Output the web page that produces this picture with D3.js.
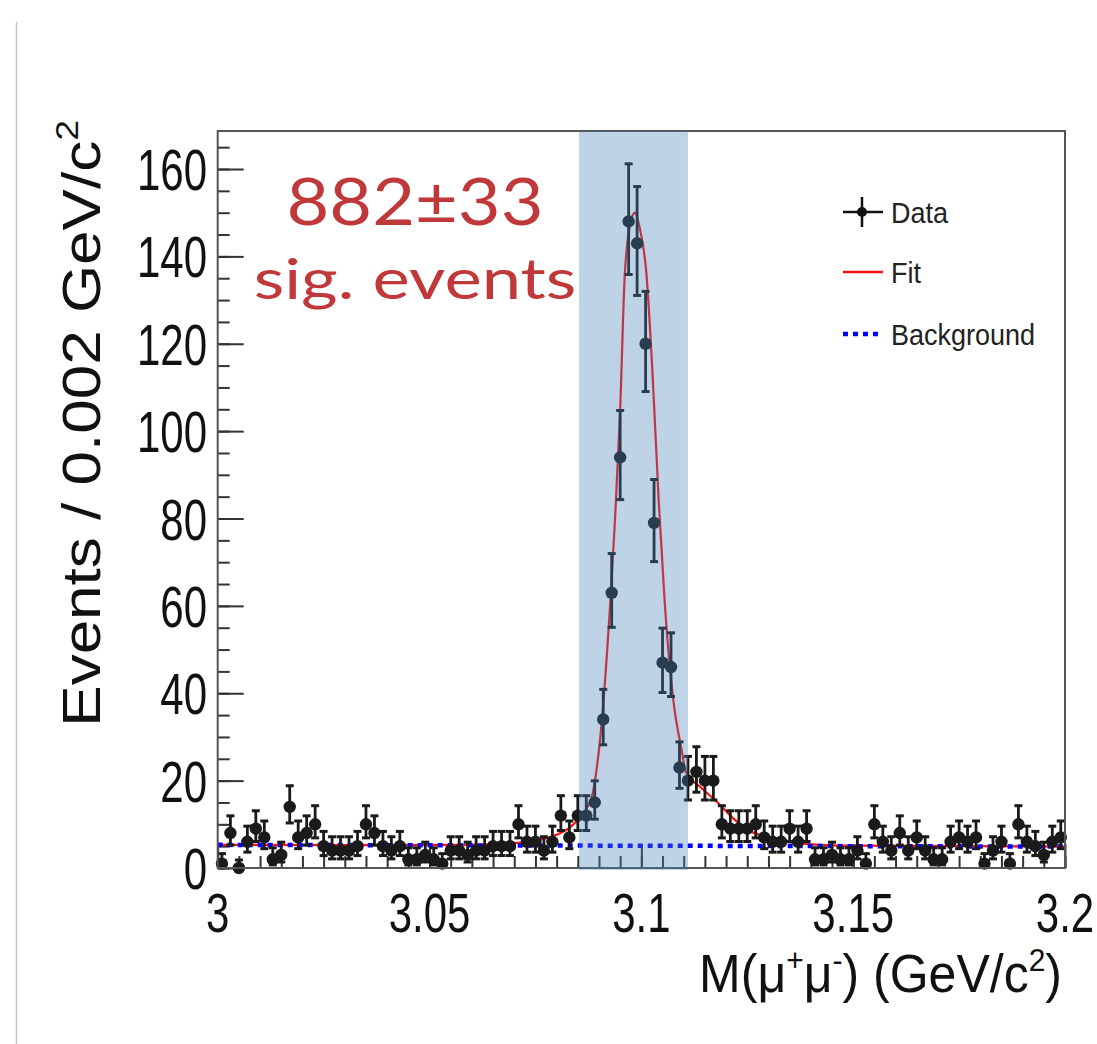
<!DOCTYPE html>
<html><head><meta charset="utf-8">
<script src="https://cdn.jsdelivr.net/npm/d3@7"></script>
<style>body{margin:0;background:#fff}svg{display:block}</style>
</head><body>
<svg id="chart" width="1097" height="1044"></svg>
<script>
// ---- data ----
const binLow = 3.0, binWidth = 0.002;
const counts = [1,8,0,6,9,7,2,3,14,7, 8,10,5,4,4,4,5,10,8,5,
                4,5,2,2,3,2,1,4,4,3, 4,4,5,5,5,10,6,6,4,6,
                12,7,12,12,15,34,63,94,148,143, 120,79,47,46,23,20,22,20,20,10,
                9,9,9,10,7,6,6,9,6,9, 2,2,3,2,2,4,1,10,6,4,
                8,4,7,4,2,2,6,7,6,7, 1,4,6,1,10,6,5,3,6,7];
const fitX = [3.000,3.030,3.060,3.070,3.075,3.080,3.083,3.085,3.087,3.0885,3.0907,3.0928,3.0938,3.095,3.0961,3.0975,3.0985,3.0995,3.1012,3.1027,3.1041,3.1055,3.1076,3.1095,3.1105,3.114,3.118,3.121,3.125,3.129,3.133,3.140,3.150,3.200];
const fitY = [5.3,5.25,5.3,5.7,6.3,7.6,9.2,11,13.5,17,34,63,80,105,136,148,150,147,136,112,84,61,38,27,22,18.5,15,12,8.8,7.2,6.2,5.4,5.1,4.9];
const bkgX = [3.0, 3.2];
const bkgY = [5.3, 4.9];
const band = [3.0853, 3.111];
const yTicks = [0,20,40,60,80,100,120,140,160];
const xTicks = [3, 3.05, 3.1, 3.15, 3.2];
const xTickLabels = ["3","3.05","3.1","3.15","3.2"];
const legendItems = ["Data","Fit","Background"];
const annotation = ["882\u00B133","sig. events"];

// ---- layout ----
const svg = d3.select("#chart");
const L = 217.7, R = 1065, T = 131, B = 868;
const x = d3.scaleLinear().domain([3.0, 3.2]).range([L, R]);
const y = d3.scaleLinear().domain([0, 168.7]).range([B, T]);
const FONT = "'Liberation Sans', Arial, Helvetica, sans-serif";

// page border line
svg.append("line").attr("x1",16.5).attr("x2",16.5).attr("y1",22).attr("y2",1044)
  .attr("stroke","#c4c4c4").attr("stroke-width",1.5);

const plot = svg.append("g");

// axes ticks (inward)
const minorY = d3.range(0, 168, 5);
const minorX = d3.range(0, 41).map(i => 3 + i*0.005);
plot.append("g").attr("transform",`translate(${L},0)`)
  .call(d3.axisLeft(y).tickValues(minorY).tickSize(-12).tickFormat(""))
  .call(g=>{g.select(".domain").remove(); g.selectAll("line").attr("stroke","#333").attr("stroke-width",2);});
plot.append("g").attr("transform",`translate(${L},0)`)
  .call(d3.axisLeft(y).tickValues(yTicks).tickSize(-26).tickFormat(""))
  .call(g=>{g.select(".domain").remove(); g.selectAll("line").attr("stroke","#333").attr("stroke-width",2);});
plot.append("g").attr("transform",`translate(0,${B})`)
  .call(d3.axisBottom(x).tickValues(minorX).tickSize(-12).tickFormat(""))
  .call(g=>{g.select(".domain").remove(); g.selectAll("line").attr("stroke","#333").attr("stroke-width",2);});
plot.append("g").attr("transform",`translate(0,${B})`)
  .call(d3.axisBottom(x).tickValues(xTicks).tickSize(-24).tickFormat(""))
  .call(g=>{g.select(".domain").remove(); g.selectAll("line").attr("stroke","#333").attr("stroke-width",2);});

// fit + background
const fitData = fitX.map((v,i)=>[v, fitY[i]]);
plot.append("path").datum(fitData)
  .attr("d", d3.line().x(d=>x(d[0])).y(d=>y(d[1])).curve(d3.curveMonotoneX))
  .attr("fill","none").attr("stroke","#ff1010").attr("stroke-width",2.2);
const bkgData = bkgX.map((v,i)=>[v, bkgY[i]]);
plot.append("path").datum(bkgData)
  .attr("d", d3.line().x(d=>x(d[0])).y(d=>y(d[1])))
  .attr("fill","none").attr("stroke","#0000ff").attr("stroke-width",4.5).attr("stroke-dasharray","5,5");

// data points with Poisson errors (Wilson-Hilferty approx of Garwood interval)
function pHi(n){ const m=n+1; return m*Math.pow(1-1/(9*m)+1/(3*Math.sqrt(m)),3); }
function pLo(n){ if(n===0) return 0; return n*Math.pow(1-1/(9*n)-1/(3*Math.sqrt(n)),3); }
const pts = counts.map((c,i)=>({x: binLow + binWidth*(i+0.5), n:c}));
const dg = plot.append("g").attr("fill","#1a1a1a").attr("stroke","#1a1a1a");
pts.forEach(p=>{
  const cx = x(p.x), y1 = y(pHi(p.n)), y0 = y(pLo(p.n));
  dg.append("line").attr("x1",cx).attr("x2",cx).attr("y1",y1).attr("y2",Math.min(y0,B+6)).attr("stroke-width",2.8);
  dg.append("line").attr("x1",cx-4).attr("x2",cx+4).attr("y1",y1).attr("y2",y1).attr("stroke-width",3);
  if (p.n>0) dg.append("line").attr("x1",cx-4).attr("x2",cx+4).attr("y1",y0).attr("y2",y0).attr("stroke-width",3);
  dg.append("circle").attr("cx",cx).attr("cy",y(p.n)).attr("r",6.2).attr("stroke","none");
});

// frame
plot.append("rect").attr("x",L).attr("y",T).attr("width",R-L).attr("height",B-T)
  .attr("fill","none").attr("stroke","#555").attr("stroke-width",2);

// signal band (semi-transparent, on top)
svg.append("rect").attr("x",x(band[0])).attr("y",T).attr("width",x(band[1])-x(band[0])).attr("height",B-T+2)
  .attr("fill","rgb(70,130,180)").attr("fill-opacity",0.35);

// tick labels
function stext(px,py,str,size,sx,sy,anchor){
  return svg.append("text").attr("transform",`translate(${px},${py}) scale(${sx},${sy})`)
    .attr("font-family",FONT).attr("font-size",size).attr("text-anchor",anchor||"start")
    .attr("fill","#111").text(str);
}
yTicks.forEach(v=>stext(207, y(v)+21, String(v), 42, 1, 1.38, "end"));
xTicks.forEach((v,i)=>stext(x(v), 932, xTickLabels[i], 42, 1, 1.34, "middle"));

// axis titles
const xt = svg.append("text").attr("transform",`translate(1062,992) scale(1,1.06)`)
  .attr("font-family",FONT).attr("font-size",50).attr("text-anchor","end").attr("fill","#111");
xt.append("tspan").text("M(\u03BC");
xt.append("tspan").attr("font-size",30).attr("dy",-20).text("+");
xt.append("tspan").attr("dy",20).text("\u03BC");
xt.append("tspan").attr("font-size",30).attr("dy",-20).text("-");
xt.append("tspan").attr("dy",20).text(") (GeV/c");
xt.append("tspan").attr("font-size",30).attr("dy",-20).text("2");
xt.append("tspan").attr("dy",20).text(")");

const yt = svg.append("text").attr("transform",`translate(100,120) rotate(-90) scale(1.17,1)`)
  .attr("font-family",FONT).attr("font-size",53).attr("text-anchor","end").attr("fill","#111");
yt.append("tspan").text("Events / 0.002 GeV/c");
yt.append("tspan").attr("font-size",32).attr("dy",-22).text("2");

// legend
const lg = svg.append("g");
const ly = [212, 272, 334];
lg.append("line").attr("x1",843).attr("x2",883).attr("y1",ly[0]).attr("y2",ly[0]).attr("stroke","#111").attr("stroke-width",2.5);
lg.append("line").attr("x1",862).attr("x2",862).attr("y1",ly[0]-15).attr("y2",ly[0]+15).attr("stroke","#111").attr("stroke-width",2.5);
lg.append("circle").attr("cx",862).attr("cy",ly[0]).attr("r",5).attr("fill","#111");
lg.append("line").attr("x1",843).attr("x2",883).attr("y1",ly[1]).attr("y2",ly[1]).attr("stroke","#ff1010").attr("stroke-width",2.5);
lg.append("line").attr("x1",843).attr("x2",883).attr("y1",ly[2]).attr("y2",ly[2]).attr("stroke","#0000ff").attr("stroke-width",4.5).attr("stroke-dasharray","5,5");
legendItems.forEach((t,i)=>stext(891, ly[i]+11, t, 27, 1, 1.08, "start").attr("fill","#222"));

// annotation
const ann = svg.append("g").attr("font-family","Lato, 'Open Sans', sans-serif").attr("fill","#c0383a").attr("text-anchor","middle");
ann.append("text").attr("transform","translate(415,225) scale(1.12,1)").attr("font-size",66).text(annotation[0]);
ann.append("text").attr("transform","translate(415,299) scale(1.26,1)").attr("font-size",56).text(annotation[1]);
</script>
</body></html>
